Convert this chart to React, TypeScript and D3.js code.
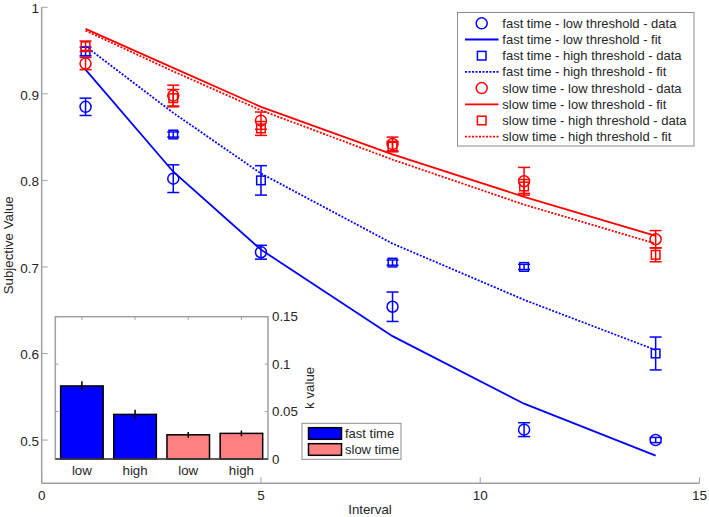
import React, { useEffect, useRef } from 'react';
import * as d3 from 'd3';

// intervals on the x axis
const intervals = [1, 3, 5, 8, 11, 14];

// data points (mean + error)
const fastLowData = [0.885, 0.802, 0.717, 0.654, 0.512, 0.5];
const fastLowErr = [0.01, 0.016, 0.008, 0.017, 0.008, 0.003];
const fastHighData = [0.949, 0.853, 0.8, 0.705, 0.7, 0.6];
const fastHighErr = [0.005, 0.003, 0.017, 0.003, 0.003, 0.019];
const slowLowData = [0.935, 0.898, 0.869, 0.842, 0.799, 0.732];
const slowLowErr = [0.007, 0.012, 0.01, 0.008, 0.016, 0.01];
const slowHighData = [0.955, 0.895, 0.86, 0.839, 0.793, 0.714];
const slowHighErr = [0.006, 0.01, 0.008, 0.006, 0.008, 0.008];

// model fits
const fastLowFit = [0.928, 0.81, 0.72, 0.62, 0.542, 0.482];
const fastHighFit = [0.955, 0.878, 0.808, 0.727, 0.662, 0.604];
const slowLowFit = [0.975, 0.93, 0.885, 0.83, 0.781, 0.736];
const slowHighFit = [0.973, 0.926, 0.881, 0.824, 0.772, 0.727];

const xTicks = [0, 5, 10, 15];
const yTicks = [0.5, 0.6, 0.7, 0.8, 0.9, 1];

// inset: k values
const kLabels = ['low', 'high', 'low', 'high'];
const kGroups = ['fast', 'fast', 'slow', 'slow'];
const kValues = [0.077, 0.047, 0.0255, 0.027];
const kErr = [0.005, 0.005, 0.003, 0.003];
const kTicks = [0, 0.05, 0.1, 0.15];

const BLUE = '#0000ff';
const RED = '#ff0000';
const PINK = '#ff8080';
const AXIS = '#a0a0a0';
const TEXT = '#262626';
const FONT = '"Liberation Sans", Arial, sans-serif';

export default function App() {
  const svgRef = useRef<SVGSVGElement>(null);

  useEffect(() => {
    if (!svgRef.current) return;
    const svg = d3.select(svgRef.current);
    svg.selectAll('*').remove();

    const x = d3.scaleLinear().domain([0, 15]).range([41.7, 699.5]);
    const y = d3.scaleLinear().domain([0.45, 1]).range([483.3, 7.3]);

    svg.append('rect').attr('width', 709).attr('height', 517).attr('fill', '#fff');

    // axes (MATLAB style, ticks inward, box off)
    const ax = svg.append('g');
    ax.append('line').attr('x1', x(0)).attr('x2', x(15)).attr('y1', y(0.45)).attr('y2', y(0.45))
      .attr('stroke', AXIS).attr('stroke-width', 1.5);
    ax.append('line').attr('x1', x(0)).attr('x2', x(0)).attr('y1', y(0.45)).attr('y2', y(1))
      .attr('stroke', AXIS).attr('stroke-width', 1.5);

    xTicks.forEach(t => {
      ax.append('line').attr('x1', x(t)).attr('x2', x(t)).attr('y1', y(0.45)).attr('y2', y(0.45) - 6)
        .attr('stroke', AXIS).attr('stroke-width', 1);
      ax.append('text').attr('x', x(t)).attr('y', 495).attr('dy', '0.35em')
        .attr('text-anchor', 'middle').attr('font-size', 13.5).attr('font-family', FONT)
        .attr('fill', TEXT).text(t);
    });
    yTicks.forEach(t => {
      ax.append('line').attr('x1', x(0)).attr('x2', x(0) + 6).attr('y1', y(t)).attr('y2', y(t))
        .attr('stroke', AXIS).attr('stroke-width', 1);
      ax.append('text').attr('x', 39).attr('y', y(t) + 1).attr('dy', '0.35em')
        .attr('text-anchor', 'end').attr('font-size', 13.5).attr('font-family', FONT)
        .attr('fill', TEXT).text(t === 1 ? '1' : d3.format('.1f')(t));
    });

    ax.append('text').attr('x', 370).attr('y', 509).attr('dy', '0.35em')
      .attr('text-anchor', 'middle').attr('font-size', 13.3).attr('font-family', FONT)
      .attr('fill', TEXT).text('Interval');
    ax.append('text').attr('transform', `translate(8.5,${(y(0.45) + y(1)) / 2}) rotate(-90)`)
      .attr('dy', '0.35em').attr('text-anchor', 'middle').attr('font-size', 13.3)
      .attr('font-family', FONT).attr('fill', TEXT).text('Subjective Value');

    // fit lines
    const line = d3.line<number>().x((_, i) => x(intervals[i])).y(d => y(d));
    const fits = [
      { vals: fastLowFit, color: BLUE, dash: null },
      { vals: fastHighFit, color: BLUE, dash: '2,1.5' },
      { vals: slowLowFit, color: RED, dash: null },
      { vals: slowHighFit, color: RED, dash: '2,1.5' },
    ];
    fits.forEach(f => {
      svg.append('path').attr('d', line(f.vals)).attr('fill', 'none')
        .attr('stroke', f.color).attr('stroke-width', 1.8)
        .attr('stroke-dasharray', f.dash);
    });

    // data with error bars
    const series = [
      { vals: fastLowData, err: fastLowErr, color: BLUE, marker: 'circle' },
      { vals: fastHighData, err: fastHighErr, color: BLUE, marker: 'square' },
      { vals: slowLowData, err: slowLowErr, color: RED, marker: 'circle' },
      { vals: slowHighData, err: slowHighErr, color: RED, marker: 'square' },
    ];
    const drawMarker = (g: any, cx: number, cy: number, kind: string, color: string) => {
      if (kind === 'circle') {
        g.append('circle').attr('cx', cx).attr('cy', cy).attr('r', 5.5)
          .attr('fill', 'none').attr('stroke', color).attr('stroke-width', 1.5);
      } else {
        g.append('rect').attr('x', cx - 4.3).attr('y', cy - 4.3).attr('width', 8.6).attr('height', 8.6)
          .attr('fill', 'none').attr('stroke', color).attr('stroke-width', 1.5);
      }
    };
    series.forEach(s => {
      const g = svg.append('g');
      s.vals.forEach((v, i) => {
        const cx = x(intervals[i]);
        const y0 = y(v - s.err[i]);
        const y1 = y(v + s.err[i]);
        g.append('line').attr('x1', cx).attr('x2', cx).attr('y1', y0).attr('y2', y1)
          .attr('stroke', s.color).attr('stroke-width', 1.5);
        [y0, y1].forEach(yy => {
          g.append('line').attr('x1', cx - 6).attr('x2', cx + 6).attr('y1', yy).attr('y2', yy)
            .attr('stroke', s.color).attr('stroke-width', 1.5);
        });
        drawMarker(g, cx, y(v), s.marker, s.color);
      });
    });

    // main legend
    const leg = svg.append('g');
    leg.append('rect').attr('x', 457.5).attr('y', 12.5).attr('width', 236.5).attr('height', 133.5)
      .attr('fill', '#fff').attr('stroke', '#8c8c8c').attr('stroke-width', 1);
    const legItems = [
      { label: 'fast time - low threshold - data', color: BLUE, kind: 'circle' },
      { label: 'fast time - low threshold - fit', color: BLUE, kind: 'solid' },
      { label: 'fast time - high threshold - data', color: BLUE, kind: 'square' },
      { label: 'fast time - high threshold - fit', color: BLUE, kind: 'dotted' },
      { label: 'slow time - low threshold - data', color: RED, kind: 'circle' },
      { label: 'slow time - low threshold - fit', color: RED, kind: 'solid' },
      { label: 'slow time - high threshold - data', color: RED, kind: 'square' },
      { label: 'slow time - high threshold - fit', color: RED, kind: 'dotted' },
    ];
    legItems.forEach((it, i) => {
      const cy = 23.3 + i * 16.2;
      if (it.kind === 'circle' || it.kind === 'square') {
        drawMarker(leg, 481.7, cy, it.kind, it.color);
      } else {
        leg.append('line').attr('x1', 465).attr('x2', 498.5).attr('y1', cy).attr('y2', cy)
          .attr('stroke', it.color).attr('stroke-width', 1.8)
          .attr('stroke-dasharray', it.kind === 'dotted' ? '2,1.5' : null);
      }
      leg.append('text').attr('x', 502.3).attr('y', cy).attr('dy', '0.35em')
        .attr('font-size', 13).attr('font-family', FONT).attr('fill', TEXT).text(it.label);
    });

    // inset bar chart
    const ix = d3.scaleBand<number>().domain(d3.range(kValues.length)).range([55.3, 268])
      .paddingInner(0.2).paddingOuter(0.1);
    const iy = d3.scaleLinear().domain([0, 0.15]).range([459, 316.7]);
    const ins = svg.append('g');
    ins.append('rect').attr('x', 55.3).attr('y', 316.7).attr('width', 268 - 55.3).attr('height', 459 - 316.7)
      .attr('fill', '#fff').attr('stroke', AXIS).attr('stroke-width', 1.5);

    kTicks.forEach(t => {
      ins.append('line').attr('x1', 55.3).attr('x2', 58.5).attr('y1', iy(t)).attr('y2', iy(t))
        .attr('stroke', AXIS).attr('stroke-width', 1);
      ins.append('line').attr('x1', 268).attr('x2', 264.8).attr('y1', iy(t)).attr('y2', iy(t))
        .attr('stroke', AXIS).attr('stroke-width', 1);
      ins.append('text').attr('x', 272).attr('y', iy(t)).attr('dy', '0.35em')
        .attr('font-size', 13.3).attr('font-family', FONT).attr('fill', TEXT)
        .text(t === 0 ? '0' : d3.format('')(t));
    });
    kValues.forEach((_, i) => {
      const cx = (ix(i) as number) + ix.bandwidth() / 2;
      ins.append('line').attr('x1', cx).attr('x2', cx).attr('y1', 316.7).attr('y2', 319.9)
        .attr('stroke', AXIS).attr('stroke-width', 1);
    });

    kValues.forEach((v, i) => {
      const bx = ix(i) as number;
      const cx = bx + ix.bandwidth() / 2;
      ins.append('rect').attr('x', bx).attr('y', iy(v)).attr('width', ix.bandwidth())
        .attr('height', iy(0) - iy(v)).attr('fill', kGroups[i] === 'fast' ? BLUE : PINK)
        .attr('stroke', '#000').attr('stroke-width', 1.5);
      ins.append('line').attr('x1', cx).attr('x2', cx).attr('y1', iy(v - kErr[i])).attr('y2', iy(v + kErr[i]))
        .attr('stroke', '#000').attr('stroke-width', 1.5);
      ins.append('text').attr('x', cx).attr('y', 470.7).attr('dy', '0.35em')
        .attr('text-anchor', 'middle').attr('font-size', 13.3).attr('font-family', FONT)
        .attr('fill', TEXT).text(kLabels[i]);
    });
    ins.append('line').attr('x1', 55.3).attr('x2', 268).attr('y1', 459).attr('y2', 459)
      .attr('stroke', '#404040').attr('stroke-width', 1.5);

    ins.append('text').attr('transform', `translate(309,${(316.7 + 459) / 2}) rotate(-90)`)
      .attr('dy', '0.35em').attr('text-anchor', 'middle').attr('font-size', 13.3)
      .attr('font-family', FONT).attr('fill', TEXT).text('k value');

    // inset legend
    const il = svg.append('g');
    il.append('rect').attr('x', 302).attr('y', 423.3).attr('width', 99).attr('height', 36)
      .attr('fill', '#fff').attr('stroke', '#8c8c8c').attr('stroke-width', 1);
    [{ label: 'fast time', color: BLUE }, { label: 'slow time', color: PINK }].forEach((it, i) => {
      const top = 427.7 + i * 16;
      il.append('rect').attr('x', 308.5).attr('y', top).attr('width', 33).attr('height', 11.6)
        .attr('fill', it.color).attr('stroke', '#000').attr('stroke-width', 1.5);
      il.append('text').attr('x', 345).attr('y', top + 5.8).attr('dy', '0.35em')
        .attr('font-size', 13).attr('font-family', FONT).attr('fill', TEXT).text(it.label);
    });
  }, []);

  return (
    <svg
      ref={svgRef}
      width={709}
      height={517}
      viewBox="0 0 709 517"
      style={{ position: 'absolute', left: 0, top: 0, display: 'block' }}
    />
  );
}
